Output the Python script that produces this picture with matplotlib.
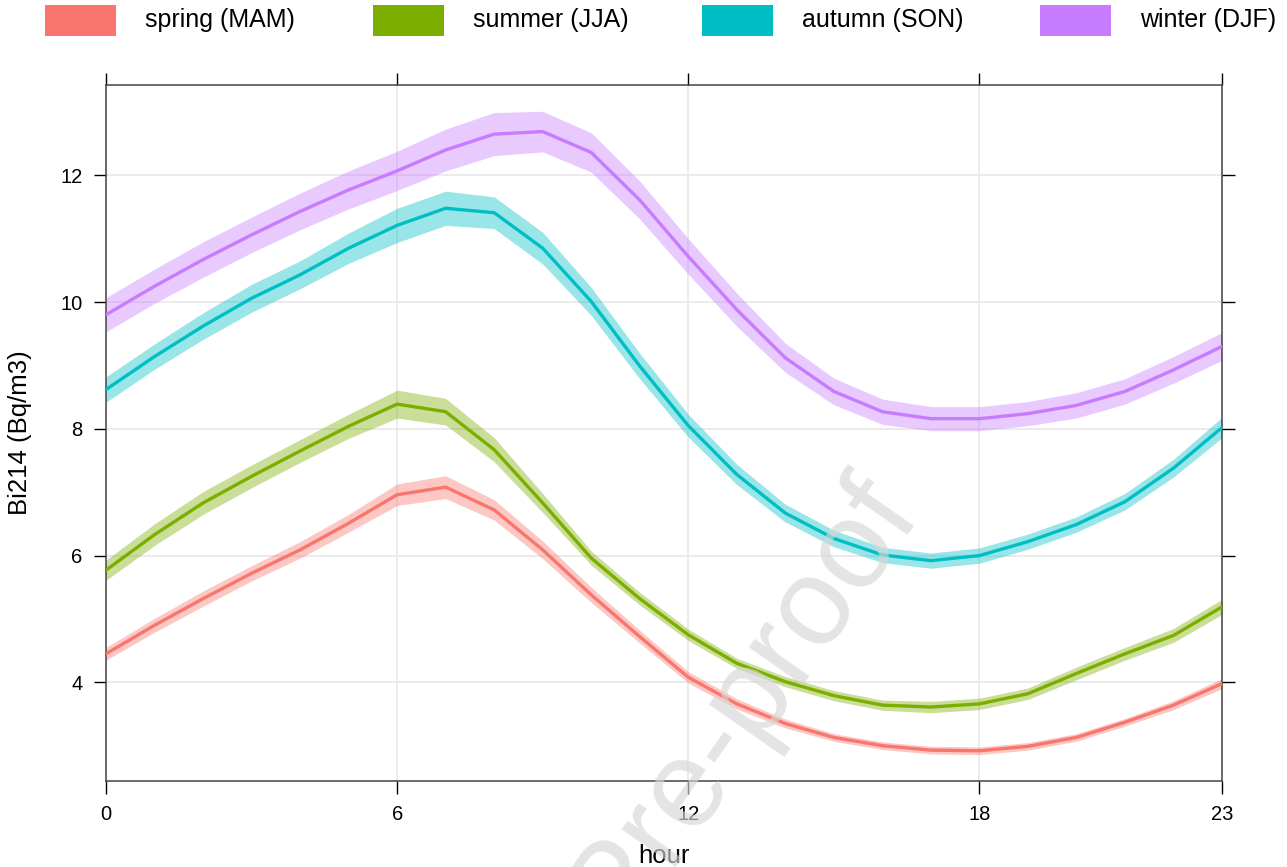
import numpy as np
import matplotlib
matplotlib.use("Agg")
import matplotlib.pyplot as plt
from matplotlib.patches import Rectangle

plt.rcParams["font.family"] = ["Liberation Sans", "DejaVu Sans"]

# ── hourly Bi214 means per season, with CI half-widths ──────────────────
hours = list(range(24))

seasons = ["spring (MAM)", "summer (JJA)", "autumn (SON)", "winter (DJF)"]
colors = ["#F8766D", "#7CAE00", "#00BFC4", "#C77CFF"]

spring = [4.45, 4.90, 5.32, 5.72, 6.09, 6.51, 6.96, 7.08, 6.72, 6.09, 5.38, 4.72,
          4.08, 3.66, 3.35, 3.13, 3.00, 2.93, 2.92, 2.99, 3.13, 3.37, 3.64, 3.98]
summer = [5.77, 6.33, 6.83, 7.25, 7.65, 8.04, 8.39, 8.27, 7.67, 6.83, 5.96, 5.32,
          4.75, 4.30, 4.01, 3.79, 3.64, 3.61, 3.66, 3.82, 4.14, 4.45, 4.74, 5.19]
autumn = [8.62, 9.14, 9.62, 10.06, 10.43, 10.85, 11.21, 11.48, 11.41, 10.85, 10.01, 8.99,
          8.05, 7.28, 6.67, 6.27, 6.01, 5.92, 6.00, 6.22, 6.49, 6.85, 7.38, 8.02]
winter = [9.80, 10.25, 10.67, 11.06, 11.43, 11.77, 12.07, 12.40, 12.65, 12.69, 12.36, 11.61,
          10.72, 9.88, 9.12, 8.59, 8.27, 8.16, 8.16, 8.24, 8.37, 8.59, 8.93, 9.30]

spring_ci = [0.10, 0.11, 0.12, 0.12, 0.13, 0.14, 0.17, 0.18, 0.16, 0.14, 0.12, 0.10,
             0.09, 0.08, 0.07, 0.06, 0.06, 0.06, 0.06, 0.06, 0.06, 0.06, 0.07, 0.08]
summer_ci = [0.16, 0.17, 0.18, 0.18, 0.18, 0.19, 0.22, 0.21, 0.19, 0.15, 0.11, 0.10,
             0.09, 0.08, 0.08, 0.08, 0.08, 0.09, 0.09, 0.09, 0.10, 0.10, 0.11, 0.12]
autumn_ci = [0.20, 0.20, 0.21, 0.22, 0.22, 0.24, 0.27, 0.27, 0.25, 0.25, 0.22, 0.20,
             0.18, 0.16, 0.14, 0.13, 0.12, 0.12, 0.12, 0.12, 0.12, 0.13, 0.14, 0.16]
winter_ci = [0.27, 0.27, 0.28, 0.28, 0.29, 0.30, 0.31, 0.33, 0.34, 0.32, 0.31, 0.30,
             0.28, 0.26, 0.23, 0.21, 0.20, 0.19, 0.19, 0.19, 0.20, 0.20, 0.21, 0.22]

means = [spring, summer, autumn, winter]
cis = [spring_ci, summer_ci, autumn_ci, winter_ci]

xticks = [0, 6, 12, 18, 23]
yticks = [4, 6, 8, 10, 12]

# ── figure ──────────────────────────────────────────────────────────────
W, H = 1287, 867
fig = plt.figure(figsize=(W / 100, H / 100), dpi=100)
ax = fig.add_axes([106 / W, 1 - 781 / H, (1222 - 106) / W, (781 - 85) / H])

x = np.array(hours)
for m, ci, c in zip(means, cis, colors):
    m = np.array(m); ci = np.array(ci)
    ax.fill_between(x, m - ci, m + ci, color=c, alpha=0.4, linewidth=0, zorder=2)
    ax.plot(x, m, color=c, linewidth=2.4, zorder=3, solid_joinstyle="miter")

ax.set_xlim(0, 23)
ax.set_ylim(2.443, 13.425)
ax.set_xticks(xticks)
ax.set_yticks(yticks)
ax.grid(True, color="#e6e6e6", linewidth=1.1, zorder=0)
ax.set_axisbelow(True)
ax.tick_params(axis="both", direction="out", length=9, width=1.0, color="black",
               labelsize=14.5, pad=8, top=True, right=True,
               labeltop=False, labelright=False)
for s in ax.spines.values():
    s.set_color("#444444")
    s.set_linewidth(1.1)

ax.set_ylabel("Bi214 (Bq/m3)", fontsize=18.5, labelpad=20)
fig.text(664 / W, 1 - 856 / H, "hour", fontsize=18.5, ha="center", va="center")

# ── legend strip across the top ─────────────────────────────────────────
rect_x = [45, 373, 702, 1040]
for rx, lab, c in zip(rect_x, seasons, colors):
    fig.patches.append(Rectangle((rx / W, 1 - 36 / H), 71 / W, 31 / H,
                                 transform=fig.transFigure, facecolor=c,
                                 edgecolor="none"))
    fig.text((rx + 100) / W, 1 - 20 / H, lab, fontsize=18, ha="left", va="center")

# ── watermark ───────────────────────────────────────────────────────────
fig.text(922 / W, 1 - 515 / H, "Journal Pre-proof", fontsize=90, rotation=55,
         rotation_mode="anchor", ha="right", va="baseline",
         color="#d6d6d6", alpha=0.65, zorder=10)

fig.savefig("out.png", dpi=100, facecolor="white")
